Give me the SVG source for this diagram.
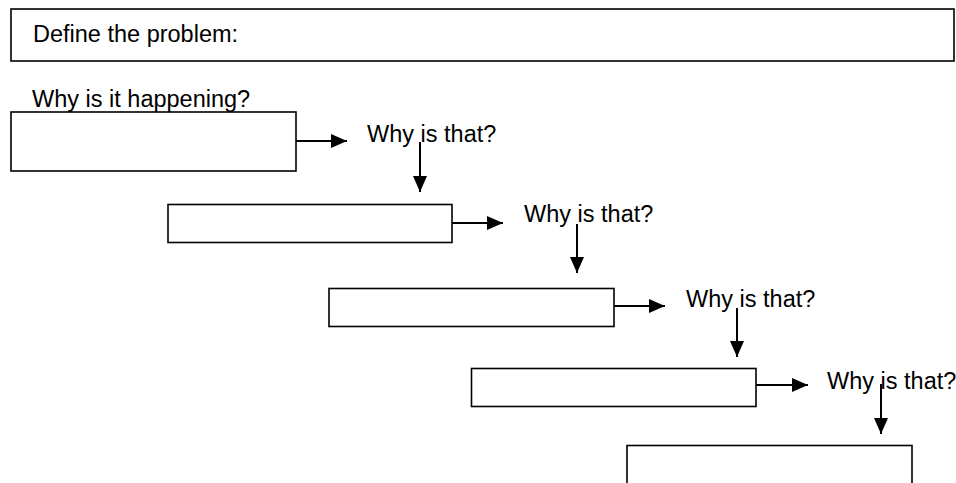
<svg xmlns="http://www.w3.org/2000/svg" width="956" height="483" viewBox="0 0 956 483">
<defs>
<style>
.box{fill:#fff;stroke:#000;stroke-width:1.6}
.lbl{font-family:"Liberation Sans",Arial,sans-serif;font-size:23.5px;fill:#000}
.conn{stroke:#000;stroke-width:2;fill:none}
</style>
<marker id="ah" markerWidth="16" markerHeight="14" refX="16" refY="7" orient="auto" markerUnits="userSpaceOnUse">
<path d="M0,0 L16,7 L0,14 Z" fill="#000"/>
</marker>
</defs>
<rect width="956" height="483" fill="#fff"/>
<g id="problem">
<rect class="box" x="11" y="9" width="943" height="52"/>
<text class="lbl" x="33" y="42">Define the problem:</text>
</g>
<text id="question" class="lbl" x="32" y="107">Why is it happening?</text>
<g id="box1"><rect class="box" x="11" y="112" width="285" height="59"/></g>
<g id="box2"><rect class="box" x="168" y="204.5" width="284" height="38"/></g>
<g id="box3"><rect class="box" x="329" y="288.5" width="285" height="38"/></g>
<g id="box4"><rect class="box" x="471.5" y="368.5" width="284.5" height="38"/></g>
<g id="box5"><rect class="box" x="627" y="445.5" width="285" height="60"/></g>
<g id="why1"><text class="lbl" x="367" y="142">Why is that?</text></g>
<g id="why2"><text class="lbl" x="524" y="222">Why is that?</text></g>
<g id="why3"><text class="lbl" x="686" y="307">Why is that?</text></g>
<g id="why4"><text class="lbl" x="827" y="389">Why is that?</text></g>
<g id="connectors">
<line class="conn" x1="296" y1="141" x2="347" y2="141" marker-end="url(#ah)"/>
<line class="conn" x1="420" y1="142" x2="420" y2="192" marker-end="url(#ah)"/>
<line class="conn" x1="452" y1="223" x2="503" y2="223" marker-end="url(#ah)"/>
<line class="conn" x1="577" y1="224" x2="577" y2="273" marker-end="url(#ah)"/>
<line class="conn" x1="614" y1="306" x2="665" y2="306" marker-end="url(#ah)"/>
<line class="conn" x1="737" y1="308" x2="737" y2="357" marker-end="url(#ah)"/>
<line class="conn" x1="756" y1="385" x2="808" y2="385" marker-end="url(#ah)"/>
<line class="conn" x1="881" y1="384" x2="881" y2="434" marker-end="url(#ah)"/>
</g>
</svg>
